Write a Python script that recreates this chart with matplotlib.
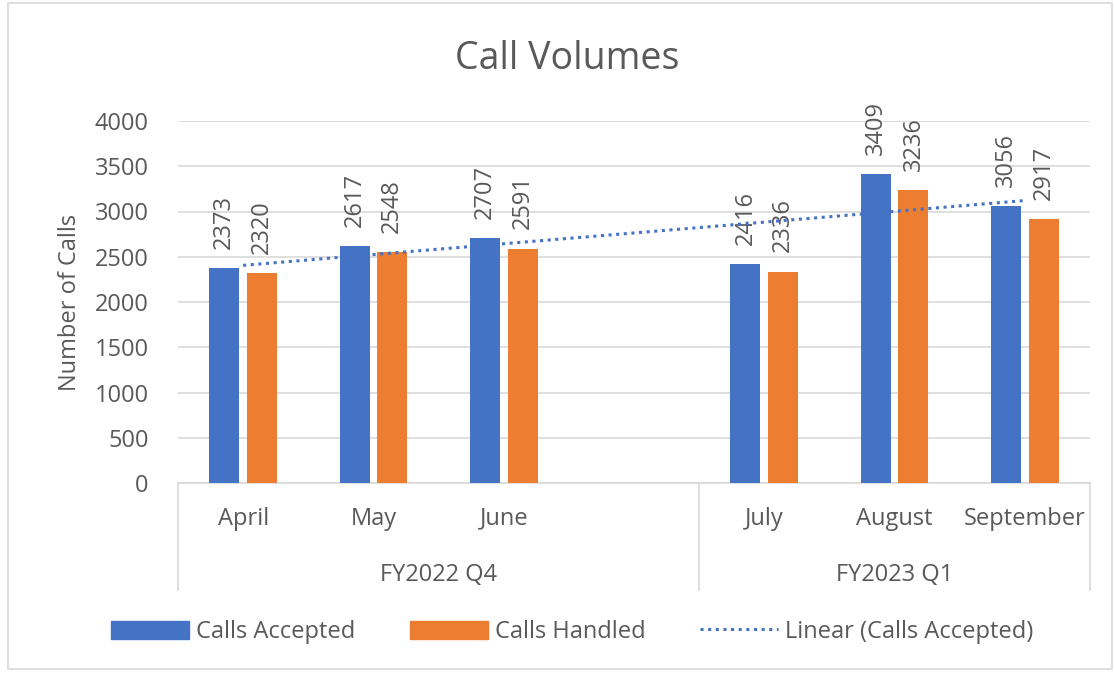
import numpy as np
import matplotlib
matplotlib.use("Agg")
import matplotlib.pyplot as plt
from matplotlib.patches import Rectangle, Patch
from matplotlib.lines import Line2D
import matplotlib.transforms as mtransforms

plt.rcParams['font.family'] = ['Open Sans', 'DejaVu Sans']

# data (one empty slot between the two quarters, like the Excel sheet)
months = ['April', 'May', 'June', '', 'July', 'August', 'September']
accepted = [2373, 2617, 2707, np.nan, 2416, 3409, 3056]
handled = [2320, 2548, 2591, np.nan, 2336, 3236, 2917]
groups = ['FY2022 Q4', 'FY2023 Q1']
group_edges = [0, 4, 7]   # slot boundaries of each group

blue = '#4472C4'
orange = '#ED7D31'
grey = '#595959'
fs = 17

fig = plt.figure(figsize=(11.15, 6.73), dpi=100)
ax = fig.add_axes([178/1115, 1-483/673, (1090-178)/1115, (483-121)/673])

x = np.arange(len(months))
w = 0.23
off = 0.145
acc = np.array(accepted, dtype=float)
han = np.array(handled, dtype=float)
ok = ~np.isnan(acc)

b1 = ax.bar(x[ok] - off, acc[ok], w, color=blue, zorder=3)
b2 = ax.bar(x[ok] + off, han[ok], w, color=orange, zorder=3)

for xi, v in zip(x[ok] - off, acc[ok]):
    ax.annotate(str(int(v)), (xi, v), xytext=(0, 14), textcoords='offset points',
                rotation=90, ha='center', va='bottom', fontsize=fs, color=grey)
for xi, v in zip(x[ok] + off, han[ok]):
    ax.annotate(str(int(v)), (xi, v), xytext=(0, 14), textcoords='offset points',
                rotation=90, ha='center', va='bottom', fontsize=fs, color=grey)

# linear trendline of accepted calls (Excel uses 1..n, skipping blank)
coef = np.polyfit(x[ok], acc[ok], 1)
ax.plot(x, np.polyval(coef, x), linestyle=(0, (1, 1.5)), color=blue, lw=2.2, zorder=4)

ax.set_xlim(-0.5, len(months) - 0.5)
ax.set_ylim(0, 4000)
ax.set_yticks(np.arange(0, 4001, 500))
ax.grid(axis='y', color='#d9d9d9', lw=1.2, zorder=0)
for s in ['top', 'right', 'left']:
    ax.spines[s].set_visible(False)
ax.spines['bottom'].set_color('#d9d9d9')
ax.spines['bottom'].set_linewidth(1.2)
ax.tick_params(axis='y', length=0, labelsize=fs, labelcolor=grey, pad=21)
ax.set_xticks(x)
ax.set_xticklabels(months)
ax.tick_params(axis='x', length=0, labelsize=fs, labelcolor=grey, pad=17)
ax.set_ylabel('Number of Calls', fontsize=fs, color=grey, labelpad=9)

# grouped category axis
trans = mtransforms.blended_transform_factory(ax.transData, ax.transAxes)
for e in group_edges:
    ax.plot([e - 0.5, e - 0.5], [0, -0.295], transform=trans, color='#d9d9d9',
            lw=1.2, clip_on=False)
for g, a, b in zip(groups, group_edges[:-1], group_edges[1:]):
    ax.text((a + b - 1) / 2, -0.254, g, transform=trans, ha='center', va='center',
            fontsize=fs, color=grey)

fig.text(0.509, 0.913, 'Call Volumes', ha='center', va='center', fontsize=27, color=grey)

handles = [Patch(color=blue), Patch(color=orange),
           Line2D([], [], color=blue, lw=2.2, linestyle=(0, (1, 1.5)))]
fig.legend(handles, ['Calls Accepted', 'Calls Handled', 'Linear (Calls Accepted)'],
           loc='center', bbox_to_anchor=(0.513, 0.061), ncol=3, frameon=False,
           fontsize=fs, labelcolor=grey, handlelength=3.3, handleheight=0.8,
           columnspacing=2.3, handletextpad=0.3)

# outer chart border
fig.patches.append(Rectangle((0.007, 0.006), 0.99, 0.99, transform=fig.transFigure,
                             fill=False, edgecolor='#d9d9d9', lw=1.2))

fig.savefig('out.png', dpi=100)
